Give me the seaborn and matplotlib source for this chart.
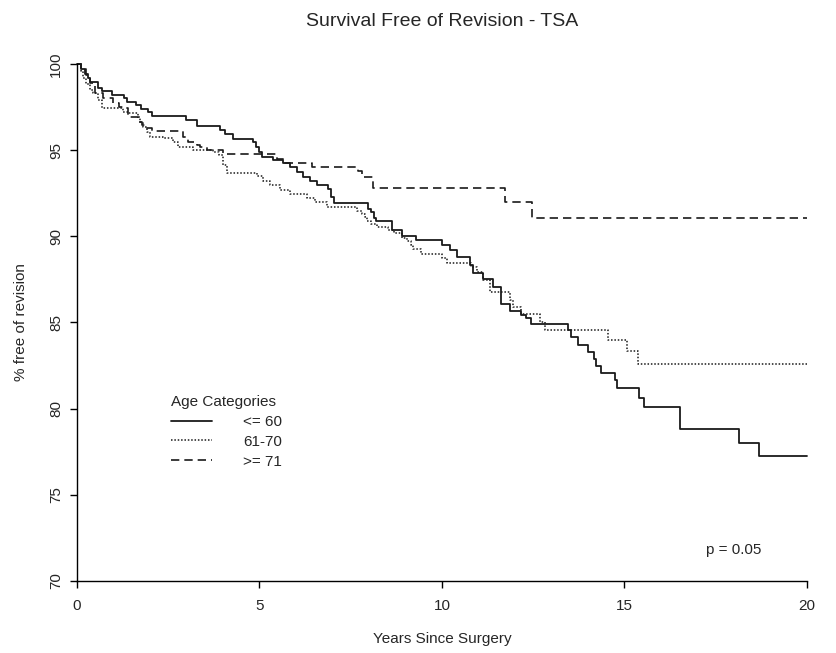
import matplotlib
matplotlib.use("Agg")
import matplotlib.pyplot as plt
import seaborn as sns
import pandas as pd

sns.set_theme(style="white")
plt.rcParams['font.family'] = ['Liberation Sans', 'DejaVu Sans']

# Kaplan-Meier step data (years, % free of revision)
t_le60 = [0, 0.1, 0.22, 0.3, 0.36, 0.58, 0.68, 0.95, 1.3, 1.36, 1.63, 1.75, 1.95, 2.05,
          3.0, 3.28, 3.92, 4.05, 4.28, 4.83, 4.9, 5.0, 5.08, 5.38, 5.65, 5.84, 6.02,
          6.2, 6.38, 6.57, 6.88, 6.95, 7.05, 7.98, 8.05, 8.15, 8.2, 8.62, 8.9, 9.3,
          9.99, 10.22, 10.4, 10.77, 10.86, 11.13, 11.4, 11.63, 11.86, 12.18, 12.3,
          12.45, 13.46, 13.55, 13.73, 14.0, 14.17, 14.22, 14.37, 14.74, 14.8, 15.4,
          15.53, 16.52, 18.15, 18.69, 20.0]
s_le60 = [100, 99.7, 99.4, 99.2, 98.95, 98.6, 98.45, 98.2, 98.0, 97.8, 97.6, 97.4, 97.2, 97.0,
          96.75, 96.4, 96.15, 95.95, 95.63, 95.45, 95.2, 94.9, 94.6, 94.43, 94.24, 94.0, 93.75,
          93.46, 93.2, 92.98, 92.73, 92.3, 91.95, 91.6, 91.43, 91.06, 90.9, 90.37, 90.0, 89.8,
          89.5, 89.2, 88.82, 88.34, 87.85, 87.5, 87.08, 86.1, 85.67, 85.44, 85.24,
          84.91, 84.56, 84.18, 83.69, 83.3, 82.86, 82.47, 82.05, 81.66, 81.18, 80.64,
          80.08, 78.82, 78.03, 77.25, 77.25]

t_61_70 = [0, 0.1, 0.17, 0.26, 0.35, 0.45, 0.58, 0.68, 1.27, 1.41, 1.68, 1.72, 1.82, 1.92,
           2.0, 2.36, 2.64, 2.78, 3.19, 3.73, 3.9, 4.0, 4.1, 4.92, 5.1, 5.3, 5.56, 5.84,
           6.29, 6.52, 6.84, 7.66, 7.8, 7.9, 7.95, 8.05, 8.21, 8.53, 8.7, 8.9, 9.05, 9.15,
           9.21, 9.44, 9.99, 10.13, 10.81, 10.95, 11.13, 11.32, 11.86, 11.95, 12.18, 12.68,
           12.82, 14.56, 15.08, 15.38, 20.0]
s_61_70 = [100, 99.6, 99.2, 98.85, 98.5, 98.3, 97.9, 97.43, 97.23, 97.14, 96.94, 96.65, 96.36, 96.05,
           95.78, 95.69, 95.5, 95.17, 95.0, 94.9, 94.72, 94.14, 93.7, 93.5, 93.23, 92.98, 92.69, 92.46,
           92.2, 92.0, 91.72, 91.49, 91.3, 91.1, 90.9, 90.7, 90.52, 90.37, 90.18, 89.89, 89.7, 89.5,
           89.25, 89.0, 88.72, 88.43, 88.24, 87.95, 87.47, 86.79, 86.3, 85.92, 85.49, 85.05,
           84.56, 83.98, 83.36, 82.6, 82.6]

t_ge71 = [0, 0.1, 0.26, 0.36, 0.5, 0.72, 1.0, 1.15, 1.27, 1.4, 1.68, 1.77, 1.9, 2.05,
          2.9, 3.05, 3.3, 3.37, 3.55, 4.0, 5.47, 5.7, 6.43, 7.7, 7.8, 8.1, 11.73, 12.46, 20.0]
s_ge71 = [100, 99.7, 99.36, 98.9, 98.3, 98.0, 97.72, 97.5, 97.43, 96.94, 96.65, 96.46, 96.27, 96.13,
          95.75, 95.5, 95.3, 95.17, 95.0, 94.76, 94.47, 94.27, 94.04, 93.8, 93.42, 92.8, 92.0, 91.08, 91.08]

groups = ["<= 60", "61-70", ">= 71"]
x_ticks = [0, 5, 10, 15, 20]
y_ticks = [70, 75, 80, 85, 90, 95, 100]

df = pd.concat([
    pd.DataFrame({"years": t_le60, "pct": s_le60, "group": groups[0]}),
    pd.DataFrame({"years": t_61_70, "pct": s_61_70, "group": groups[1]}),
    pd.DataFrame({"years": t_ge71, "pct": s_ge71, "group": groups[2]}),
], ignore_index=True)

styles = {groups[0]: dict(linestyle="-", lw=1.3),
          groups[1]: dict(linestyle=(0, (1, 1.2)), lw=1.1),
          groups[2]: dict(linestyle=(0, (5, 3)), lw=1.2)}

fig = plt.figure(figsize=(8.37, 6.53), dpi=100)
ax = fig.add_axes([0.092, 0.1103, 0.872, 0.7917])

for g in groups:
    sub = df[df["group"] == g]
    sns.lineplot(data=sub, x="years", y="pct", ax=ax, estimator=None, sort=False,
                 drawstyle="steps-post", color="#1a1a1a", label=g, clip_on=False,
                 **styles[g])

ax.set_xlim(0, 20)
ax.set_ylim(70, 100)
ax.set_xticks(x_ticks)
ax.set_yticks(y_ticks)
ax.set_xticklabels([str(v) for v in x_ticks], fontsize=11)
ax.set_yticklabels([str(v) for v in y_ticks], fontsize=11, rotation=90, va="center")
ax.tick_params(axis="both", direction="out", length=5, width=1, color="black",
               bottom=True, left=True)
ax.tick_params(axis="x", pad=8)
ax.tick_params(axis="y", pad=5)
for side in ["top", "right"]:
    ax.spines[side].set_visible(False)
for side in ["left", "bottom"]:
    ax.spines[side].set_color("black")
    ax.spines[side].set_linewidth(1)

ax.set_xlabel("Years Since Surgery", fontsize=11, labelpad=14)
ax.set_ylabel("% free of revision", fontsize=11, labelpad=15)
fig.text(0.528, 0.967, "Survival Free of Revision - TSA", ha="center", va="center", fontsize=14)

ax.text(18.0, 71.8, "p = 0.05", ha="center", va="center", fontsize=11)

leg = ax.legend(loc="upper left", bbox_to_anchor=(0.11, 0.386), frameon=False,
                title="Age Categories", fontsize=11, title_fontsize=11,
                handlelength=2.7, handletextpad=2.0, labelspacing=0.38)
leg._legend_box.align = "left"

fig.savefig("out.png", dpi=100)
